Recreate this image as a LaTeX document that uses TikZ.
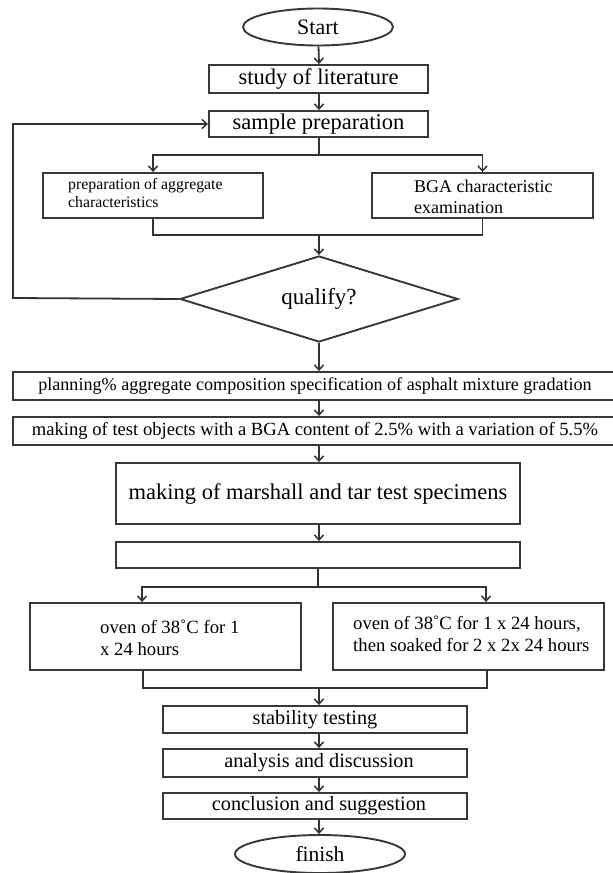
\documentclass[tikz,border=0pt]{standalone}
\usepackage{fontspec}
\setmainfont{Liberation Serif}
\usetikzlibrary{shapes.geometric,arrows.meta,calc}
\begin{document}
\begin{tikzpicture}[x=1pt,y=-1pt,
  ln/.style={draw=black!78, line width=1.9pt},
  boxnode/.style={ln, rectangle, inner sep=0pt},
  ellnode/.style={ln, ellipse, inner sep=0pt},
  con/.style={draw=black!80, line width=1.8pt},
  arr/.style={con, -{Straight Barb[length=5pt,width=9pt,line width=1.5pt]}},
  fs/.style={font=\fontsize{#1}{#1}\selectfont},
  lbl/.style={inner sep=0pt, anchor=north west, align=left}
]
\useasboundingbox (0,0) rectangle (613,873);

% top part
\node[ellnode, minimum width=150pt, minimum height=37pt, fs=22] (start) at (318,27) {Start};
\node[boxnode, minimum width=219pt, minimum height=28pt, fs=22.5] (study) at (318.5,79) {study of literature};
\node[boxnode, minimum width=219pt, minimum height=26pt, fs=22.5] (sample) at (318.5,124) {sample preparation};

\node[boxnode, minimum width=220pt, minimum height=45pt] (prep) at (153,195.5) {};
\node[lbl, font=\fontsize{15.8}{18}\selectfont] (preptxt) at (68,178.5) {preparation of aggregate\\characteristics};
\node[boxnode, minimum width=221pt, minimum height=45pt] (bga) at (482.5,195.5) {};
\node[lbl, font=\fontsize{18}{21}\selectfont] (bgatxt) at (414,180) {BGA characteristic\\examination};

\node[ln, diamond, minimum width=278pt, minimum height=86pt, aspect=3.23, inner sep=0pt, fs=23] (q) at (319,299) {qualify?};

% middle part
\node[boxnode, minimum width=604pt, minimum height=28pt, fs=18.1] (plan) at (315,386) {planning\% aggregate composition specification of asphalt mixture gradation};
\node[boxnode, minimum width=604pt, minimum height=28pt, fs=18.6] (make) at (315,431) {making of test objects with a BGA content of 2.5\% with a variation of 5.5\%};
\node[boxnode, minimum width=404pt, minimum height=61pt, fs=22.5] (marsh) at (318,493.5) {making of marshall and tar test specimens};
\node[boxnode, minimum width=404pt, minimum height=26pt] (empty) at (318,555) {};

\node[boxnode, minimum width=271pt, minimum height=67pt] (ovenL) at (165.5,636.5) {};
\node[lbl, font=\fontsize{18.7}{22}\selectfont] (ovenLtxt) at (100,620) {oven of 38˚C for 1\\x 24 hours};
\node[boxnode, minimum width=271pt, minimum height=67pt] (ovenR) at (468.5,636.5) {};
\node[lbl, font=\fontsize{18.7}{22}\selectfont] (ovenRtxt) at (353,616) {oven of 38˚C for 1 x 24 hours,\\then soaked for 2 x 2x 24 hours};

% bottom part
\node[boxnode, minimum width=304pt, minimum height=27pt, fs=20.3] (stab) at (315,719.5) {stability testing};
\node[boxnode, minimum width=304pt, minimum height=28pt, fs=20.3] (anal) at (315,763) {\hspace{8pt}analysis and discussion};
\node[boxnode, minimum width=304pt, minimum height=26pt, fs=20.3] (concl) at (315,806) {\hspace{8pt}conclusion and suggestion};
\node[ellnode, minimum width=170pt, minimum height=38pt, fs=21.5] (finish) at (320,854) {finish};

% coordinates
\coordinate (axis) at (319,0);
\coordinate (s1) at (319,155);
\coordinate (m1) at (319,235);
\coordinate (fb) at (13,298);
\coordinate (b1) at (318,587);
\coordinate (m2) at (319,688);

% connectors
\draw[arr] (start) -- (axis |- study.north);
\draw[arr] (axis |- study.south) -- (axis |- sample.north);
\draw[con] (axis |- sample.south) -- (s1);
\draw[arr] (s1) -| (prep.north);
\draw[arr] (s1) -| (bga.north);
\draw[con] (prep.south) |- (m1);
\draw[con] (bga.south) |- (m1);
\draw[arr] (m1) -- (q.north);
\draw[arr] (q.west) -- (fb) |- (sample.west);
\draw[arr] (q.south) -- (axis |- plan.north);
\draw[arr] (axis |- plan.south) -- (axis |- make.north);
\draw[arr] (axis |- make.south) -- (axis |- marsh.north);
\draw[arr] (axis |- marsh.south) -- (axis |- empty.north);
\draw[con] (b1 |- empty.south) -- (b1);
\draw[arr] (b1) -| ([xshift=113pt]ovenL.north west);
\draw[arr] (b1) -| ([xshift=154pt]ovenR.north west);
\draw[con] ([xshift=114pt]ovenL.south west) |- (m2);
\draw[con] ([xshift=155pt]ovenR.south west) |- (m2);
\draw[arr] (m2) -- (axis |- stab.north);
\draw[arr] (axis |- stab.south) -- (axis |- anal.north);
\draw[arr] (axis |- anal.south) -- (axis |- concl.north);
\draw[arr] (axis |- concl.south) -- (axis |- finish.north);
\end{tikzpicture}
\end{document}
